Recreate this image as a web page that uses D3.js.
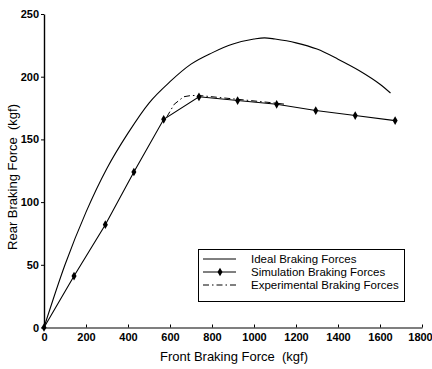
<!DOCTYPE html>
<html><head><meta charset="utf-8">
<script src="https://cdn.jsdelivr.net/npm/d3@7"></script>
<style>
html,body{margin:0;padding:0;background:#fff;}
text{font-family:"Liberation Sans","Arial",sans-serif;fill:#000;white-space:pre;}
.tick text{font-family:"Liberation Sans Narrow","Liberation Sans",sans-serif;font-size:11px;font-weight:bold;}
</style></head>
<body>
<svg id="chart" width="432" height="369"></svg>
<script>
const xTicks = [0,200,400,600,800,1000,1200,1400,1600,1800];
const yTicks = [0,50,100,150,200,250];

const idealX = [0,100,200,300,400,500,600,700,800,900,1000,1050,1100,1200,1300,1400,1500,1600,1650];
const idealY = [0,50,92,127,155,179,196,210,219,226,230,231,230,227,222,214,205,194,187];

const simX = [0,143,292,428,570,738,922,1108,1294,1482,1672];
const simY = [0,41,82,124,166,184,181,178,173,169,165];

const expX = [585,620,665,700,740,920,1100,1150];
const expY = [168,178,184,185,185,182,179,178];

const seriesNames = ["Ideal Braking Forces","Simulation Braking Forces","Experimental Braking Forces"];

const svg = d3.select("#chart");
const x = d3.scaleLinear().domain([0,1800]).range([44,422]);
const y = d3.scaleLinear().domain([0,250]).range([327.5,14]);

// axes
const xAxis = d3.axisBottom(x).tickValues(xTicks).tickFormat(d3.format("d")).tickSizeInner(-3).tickSizeOuter(0).tickPadding(6);
const gx = svg.append("g").attr("class","x axis").attr("transform","translate(0,327.5)").call(xAxis);
gx.select(".domain").attr("stroke","#000").attr("stroke-width",1.2);
gx.selectAll(".tick line").attr("stroke","#000");
gx.selectAll(".tick text").filter(d=>d===1800).attr("dx",-2);

const yAxis = d3.axisLeft(y).tickValues(yTicks).tickFormat(d3.format("d")).tickSizeInner(3).tickSizeOuter(0).tickPadding(2);
const gy = svg.append("g").attr("class","y axis").attr("transform","translate(44,0)").call(yAxis);
gy.select(".domain").attr("stroke","#000").attr("stroke-width",1.4);
gy.selectAll(".tick line").attr("stroke","#000");

const line = d3.line().x(d=>x(d[0])).y(d=>y(d[1]));
const lineCurve = d3.line().x(d=>x(d[0])).y(d=>y(d[1])).curve(d3.curveMonotoneX);

const ideal = idealX.map((v,i)=>[v,idealY[i]]);
const sim = simX.map((v,i)=>[v,simY[i]]);
const exp = expX.map((v,i)=>[v,expY[i]]);

svg.append("path").attr("d",lineCurve(ideal)).attr("fill","none").attr("stroke","#000").attr("stroke-width",1.1);
svg.append("path").attr("d",line(exp)).attr("fill","none").attr("stroke","#000").attr("stroke-width",1).attr("stroke-dasharray","6,3,1.5,3");
svg.append("path").attr("d",line(sim)).attr("fill","none").attr("stroke","#000").attr("stroke-width",1.1);

const diamond = d3.symbol().type(d3.symbolDiamond).size(22);
svg.selectAll(".mk").data(sim).enter().append("path").attr("class","mk")
  .attr("d",diamond).attr("transform",d=>`translate(${x(d[0])},${y(d[1])})`).attr("fill","#000");

// legend
const lg = svg.append("g");
lg.append("rect").attr("x",198.5).attr("y",249.5).attr("width",206).attr("height",52).attr("fill","#fff").attr("stroke","#000").attr("stroke-width",1);
const rows = [263,276,289];
lg.append("line").attr("x1",203).attr("x2",236).attr("y1",rows[0]-4).attr("y2",rows[0]-4).attr("stroke","#000");
lg.append("line").attr("x1",203).attr("x2",236).attr("y1",rows[1]-4).attr("y2",rows[1]-4).attr("stroke","#000");
lg.append("path").attr("d",diamond).attr("transform",`translate(220,${rows[1]-4})`).attr("fill","#000");
lg.append("line").attr("x1",203).attr("x2",236).attr("y1",rows[2]-4).attr("y2",rows[2]-4).attr("stroke","#000").attr("stroke-dasharray","6,3,1.5,3");
lg.selectAll(".lt").data(seriesNames).enter().append("text")
  .attr("x",251).attr("y",(d,i)=>rows[i]).attr("font-size","11.5px").text(d=>d);

// titles
svg.append("text").attr("x",234).attr("y",361).attr("text-anchor","middle").attr("font-size","13px").text("Front Braking Force  (kgf)");
svg.append("text").attr("transform","translate(17,177) rotate(-90)").attr("text-anchor","middle").attr("font-size","13px").text("Rear Braking Force  (kgf)");
</script>
</body></html>
